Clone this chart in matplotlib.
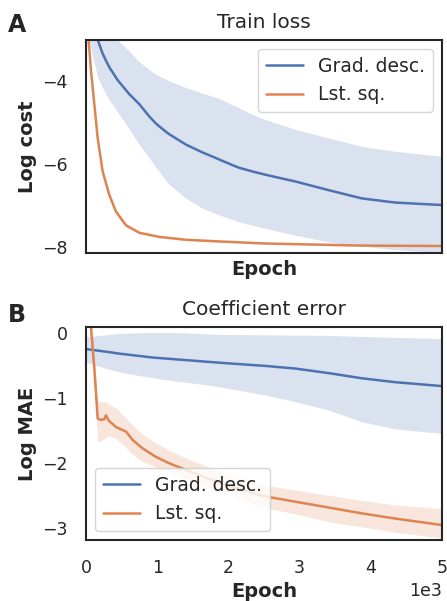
import matplotlib
matplotlib.use('Agg')
import matplotlib.pyplot as plt
import seaborn as sns
import numpy as np

sns.set_theme(style='white', context='notebook', font_scale=1.1)

# ---- train loss (log cost) ----
gd_ep = [0, 47, 94, 164, 234, 281, 328, 445, 468, 609, 655, 749, 866, 890, 983, 1124, 1171,
         1405, 1639, 1779, 1873, 2107, 2154, 2341, 2528, 2940, 3408, 3876, 4345, 5000]
gd_loss = [-2.4, -2.6, -2.8, -2.99, -3.33, -3.5, -3.66, -3.97, -4.02, -4.31, -4.39, -4.55,
           -4.80, -4.85, -5.02, -5.22, -5.28, -5.53, -5.72, -5.82, -5.89, -6.06, -6.09,
           -6.18, -6.26, -6.42, -6.63, -6.83, -6.93, -6.99]
gd_loss_hi = [-1.9, -2.1, -2.3, -2.5, -2.7, -2.8, -2.88, -3.0, -3.04, -3.27, -3.36, -3.53,
              -3.68, -3.72, -3.83, -3.95, -3.99, -4.15, -4.29, -4.36, -4.42, -4.6, -4.64,
              -4.8, -4.93, -5.16, -5.37, -5.57, -5.69, -5.81]
gd_loss_lo = [-2.75, -3.0, -3.41, -3.9, -4.16, -4.31, -4.45, -4.74, -4.80, -5.16, -5.28,
              -5.53, -5.79, -5.85, -6.08, -6.40, -6.49, -6.83, -7.07, -7.17, -7.23, -7.37,
              -7.40, -7.48, -7.56, -7.72, -7.88, -7.98, -8.07, -8.13]

ls_ep = [0, 37, 70, 117, 164, 234, 328, 421, 562, 749, 1030, 1405, 1873, 2528, 3876, 5000]
ls_loss = [-2.6, -3.0, -3.74, -4.55, -5.37, -6.18, -6.75, -7.15, -7.48, -7.66, -7.76, -7.83,
           -7.87, -7.92, -7.97, -7.98]
ls_loss_hi = [-2.55, -2.95, -3.68, -4.48, -5.3, -6.11, -6.68, -7.09, -7.43, -7.63, -7.74,
              -7.81, -7.85, -7.9, -7.95, -7.96]
ls_loss_lo = [-2.65, -3.05, -3.8, -4.62, -5.44, -6.25, -6.82, -7.21, -7.53, -7.69, -7.78,
              -7.85, -7.89, -7.94, -7.99, -8.0]

# ---- coefficient error (log MAE) ----
gd_ep2 = [0, 281, 468, 702, 936, 1171, 1405, 1873, 2528, 2940, 3408, 3876, 4345, 5000]
gd_mae = [-0.24, -0.28, -0.31, -0.34, -0.37, -0.39, -0.41, -0.45, -0.50, -0.54, -0.61,
          -0.69, -0.75, -0.81]
gd_mae_hi = [-0.05, -0.02, 0.0, 0.01, 0.015, 0.015, 0.01, -0.015, -0.02, -0.025, -0.03,
             -0.045, -0.06, -0.08]
gd_mae_lo = [-0.44, -0.54, -0.59, -0.64, -0.68, -0.72, -0.75, -0.82, -0.95, -1.05, -1.18,
             -1.36, -1.47, -1.54]

ls_ep2 = [0, 40, 70, 117, 164, 211, 257, 281, 318, 421, 562, 655, 796, 983, 1171, 1405,
          1873, 2472, 2940, 3408, 3876, 4345, 5000]
ls_mae = [1.2, 0.6, 0.09, -0.54, -1.31, -1.33, -1.32, -1.26, -1.34, -1.44, -1.51, -1.64,
          -1.77, -1.90, -2.0, -2.10, -2.30, -2.50, -2.59, -2.68, -2.77, -2.85, -2.95]
ls_mae_hi = [1.4, 0.8, 0.3, -0.3, -1.05, -1.05, -1.05, -1.05, -1.08, -1.15, -1.3, -1.41,
             -1.55, -1.69, -1.8, -1.92, -2.12, -2.33, -2.41, -2.49, -2.57, -2.64, -2.70]
ls_mae_lo = [1.0, 0.4, -0.1, -0.8, -1.67, -1.65, -1.62, -1.6, -1.57, -1.62, -1.75, -1.87,
             -1.97, -2.06, -2.14, -2.23, -2.44, -2.67, -2.78, -2.90, -2.98, -3.06, -3.15]

blue, orange = sns.color_palette('deep')[0], sns.color_palette('deep')[1]

fig = plt.figure(figsize=(4.47, 6.01), dpi=100)
ax1 = fig.add_axes([0.1924, 0.579, 0.7964, 0.3544])
ax2 = fig.add_axes([0.1924, 0.1015, 0.7964, 0.3544])

for a in (ax1, ax2):
    for s in a.spines.values():
        s.set_color('.15')
        s.set_linewidth(1.5)
    a.tick_params(axis='x', labelsize=12.5, pad=8)
    a.tick_params(axis='y', labelsize=12.5, pad=7)

ax1.fill_between(gd_ep, gd_loss_lo, gd_loss_hi, color=blue, alpha=0.2, lw=0)
ax1.plot(gd_ep, gd_loss, color=blue, lw=1.8, label='Grad. desc.')
ax1.fill_between(ls_ep, ls_loss_lo, ls_loss_hi, color=orange, alpha=0.2, lw=0)
ax1.plot(ls_ep, ls_loss, color=orange, lw=1.8, label='Lst. sq.')
ax1.set_xlim(0, 5000)
ax1.set_ylim(-8.15, -3.0)
ax1.set_yticks([-4, -6, -8])
ax1.tick_params(labelbottom=False)
ax1.set_title('Train loss', fontsize=14.5, pad=9)
ax1.set_xlabel('Epoch', fontweight='bold', fontsize=14, labelpad=5)
ax1.set_ylabel('Log cost', fontweight='bold', fontsize=14)
ax1.legend(loc='upper right', fontsize=13.5)

ax2.fill_between(gd_ep2, gd_mae_lo, gd_mae_hi, color=blue, alpha=0.2, lw=0)
ax2.plot(gd_ep2, gd_mae, color=blue, lw=1.8, label='Grad. desc.')
ax2.fill_between(ls_ep2, ls_mae_lo, ls_mae_hi, color=orange, alpha=0.2, lw=0)
ax2.plot(ls_ep2, ls_mae, color=orange, lw=1.8, label='Lst. sq.')
ax2.set_xlim(0, 5000)
ax2.set_ylim(-3.18, 0.1)
ax2.set_yticks([0, -1, -2, -3])
ax2.ticklabel_format(axis='x', style='sci', scilimits=(0, 0))
ax2.xaxis.get_offset_text().set_fontsize(12.5)
ax2.set_title('Coefficient error', fontsize=14.5, pad=9)
ax2.set_xlabel('Epoch', fontweight='bold', fontsize=14, labelpad=3.5)
ax2.set_ylabel('Log MAE', fontweight='bold', fontsize=14)
ax2.legend(loc='lower left', fontsize=13.5)

fig.text(0.018, 0.978, 'A', fontsize=17, fontweight='bold', va='top')
fig.text(0.018, 0.496, 'B', fontsize=17, fontweight='bold', va='top')

fig.savefig('out.png', dpi=100)
